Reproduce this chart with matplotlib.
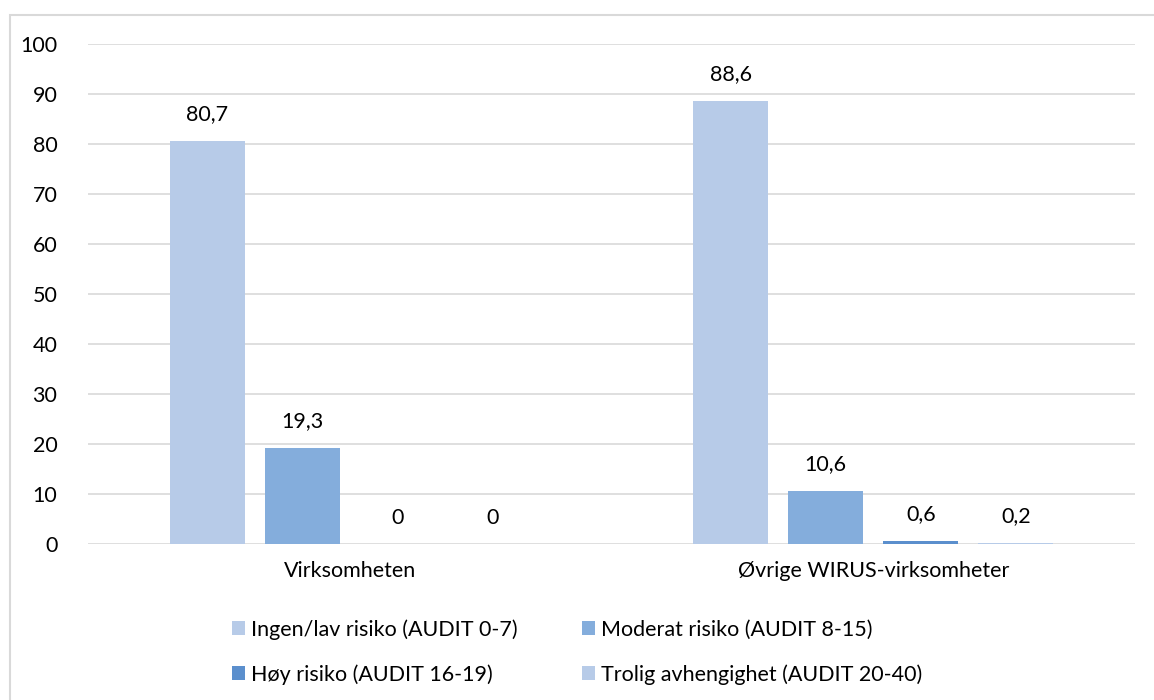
import matplotlib
matplotlib.use("Agg")
import matplotlib.pyplot as plt
from matplotlib.patches import Rectangle
import numpy as np

plt.rcParams['font.family'] = ['Lato', 'DejaVu Sans']

categories = ["Virksomheten", "Øvrige WIRUS-virksomheter"]
series_names = ["Ingen/lav risiko (AUDIT 0-7)", "Moderat risiko (AUDIT 8-15)",
                "Høy risiko (AUDIT 16-19)", "Trolig avhengighet (AUDIT 20-40)"]
values = [
    [80.7, 88.6],
    [19.3, 10.6],
    [0.0, 0.6],
    [0.0, 0.2],
]
labels = [["80,7", "88,6"], ["19,3", "10,6"], ["0", "0,6"], ["0", "0,2"]]
colors = ["#B7CBE8", "#84ADDC", "#5B8FCD", "#B7CBE8"]
yticks = [0, 10, 20, 30, 40, 50, 60, 70, 80, 90, 100]

FS = 15.5
W, H = 1154, 700
fig = plt.figure(figsize=(W/100, H/100), dpi=100)
ax = fig.add_axes([88/W, 1-544/H, (1135-88)/W, (544-44)/H])

x = np.arange(len(categories))
bw = 0.143
step = 0.1815
handles = []
for i, (vals, lab, c) in enumerate(zip(values, labels, colors)):
    pos = x + (i - 1.5) * step
    b = ax.bar(pos, vals, width=bw, color=c, label=series_names[i], zorder=3)
    handles.append(b)
    for p, v, t in zip(pos, vals, lab):
        ax.text(p, v + 3.3, t, ha='center', va='bottom', fontsize=FS, color='black')

ax.set_xlim(-0.5, 1.5)
ax.set_ylim(0, 100)
ax.set_yticks(yticks)
ax.set_yticklabels([str(t) for t in yticks], fontsize=FS)
ax.set_xticks(x)
ax.set_xticklabels(categories, fontsize=FS)
ax.tick_params(axis='both', length=0)
ax.tick_params(axis='y', pad=22)
ax.tick_params(axis='x', pad=12)
ax.grid(axis='y', color='#D9D9D9', linewidth=1.2, zorder=0)
for s in ax.spines.values():
    s.set_visible(False)

order = [0, 2, 1, 3]
leg = fig.legend([handles[k] for k in order], [series_names[k] for k in order],
                 loc='center', bbox_to_anchor=(0.5, 1-652/H), ncol=2, frameon=False,
                 fontsize=FS, handlelength=0.62, handleheight=0.62, handletextpad=0.25,
                 columnspacing=3.0, labelspacing=1.15)

fig.patches.append(Rectangle((10/W, -0.01), 1.2, 1-15/H + 0.01, transform=fig.transFigure,
                             fill=False, edgecolor='#D9D9D9', linewidth=1.5))

fig.savefig("out.png", dpi=100, facecolor='white')
